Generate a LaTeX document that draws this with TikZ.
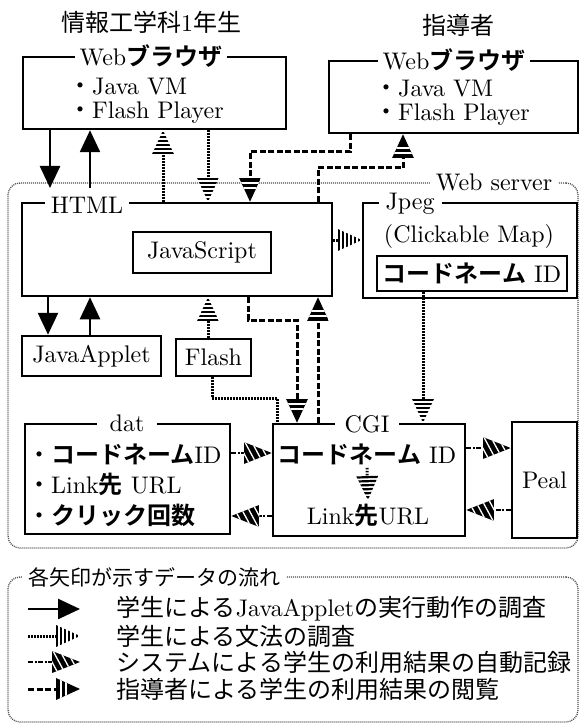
\documentclass[tikz,border=0pt]{standalone}
\usepackage{fontspec}
\setmainfont{lmroman10-regular.otf}[BoldFont=lmroman10-bold.otf]
\newfontfamily\jp{Noto Sans CJK JP}[BoldFont={Noto Sans CJK JP Bold}]
\usetikzlibrary{arrows.meta,decorations.markings}

\newcommand{\jtxt}[1]{{\jp #1}}
\newcommand{\jbold}[1]{{\jp\bfseries #1}}

% striped heads, drawn in the frame of the path end
\newcommand{\gramhead}{%
  \begin{scope}[solid, shorten >=0pt]
    \clip (0,0) -- (-24,-11) -- (-24,11) -- cycle;
    \fill[white] (-24,-11) -- (0,-11) -- (0,11) -- (-24,11) -- cycle;
    \foreach \s in {0,4,...,20}
      \fill (-24+\s,-11) -- (-21.8+\s,-11) -- (-21.8+\s,11) -- (-24+\s,11) -- cycle;
  \end{scope}}
\newcommand{\syshead}{%
  \begin{scope}[solid, shorten >=0pt]
    \clip (0,0) -- (-28,-11) -- (-28,11) -- cycle;
    \fill (-28,-11) -- (0,-11) -- (0,11) -- (-28,11) -- cycle;
    \foreach \s in {-35,-28,...,-7}
      \draw[white, line width=1.3pt] (\s,-13) -- (\s+14,13);
  \end{scope}}
\newcommand{\suphead}{%
  \begin{scope}[solid, shorten >=0pt]
    \clip (0,0) -- (-24,-11) -- (-24,11) -- cycle;
    \fill (-24,-11) -- (0,-11) -- (0,11) -- (-24,11) -- cycle;
    \fill[white] (-20,-11) -- (-18,-11) -- (-18,11) -- (-20,11) -- cycle;
    \fill[white] (-15,-11) -- (-13,-11) -- (-13,11) -- (-15,11) -- cycle;
  \end{scope}}

\tikzset{
  box/.style={draw, line width=2.5pt, inner sep=0pt},
  boxtitle/.style={fill=white, inner ysep=1pt},
  frame/.style={draw=black!70, line width=1.3pt, dash pattern=on 1pt off 1pt,
    rounded corners=12pt, inner sep=0pt},
  % data flows
  applet/.style={line width=2.5pt, -{Triangle[length=22pt,width=20pt]}},
  gramline/.style={line width=3pt, dash pattern=on 1.5pt off 1.5pt},
  gram/.style={gramline, shorten >=22pt,
    postaction={decorate, decoration={markings, mark=at position 1 with {\gramhead}}}},
  sys/.style={line width=2.5pt, dash pattern=on 5pt off 1.5pt on 2pt off 1.5pt, shorten >=26pt,
    postaction={decorate, decoration={markings, mark=at position 1 with {\syshead}}}},
  sup/.style={line width=3pt, dash pattern=on 6pt off 2.5pt, shorten >=22pt,
    postaction={decorate, decoration={markings, mark=at position 1 with {\suphead}}}},
}

\begin{document}
\begin{tikzpicture}[x=1pt, y=-1pt, font=\fontsize{24}{25}\selectfont]
  \useasboundingbox (0,0) rectangle (583,727);

  % Users
  \node (student) at (151,22) {\jtxt{情報工学科}1\jtxt{年生}};
  \node (teacher) at (458,25) {\jtxt{指導者}};

  % Browsers
  \node[box, minimum width=263, minimum height=72] (lbrowser) at (154.5,93) {};
  \node[boxtitle, inner xsep=5pt] (lbrowserlbl) at (151,56) {Web\jbold{ブラウザ}};
  \node[anchor=west, align=left, inner sep=0pt, font=\fontsize{24}{24}\selectfont]
    (ltxt) at (68,101) {\jtxt{・}Java VM\\\jtxt{・}Flash Player};

  \node[box, minimum width=249, minimum height=72] (rbrowser) at (453.5,97) {};
  \node[boxtitle, inner xsep=5pt] (rbrowserlbl) at (454,60) {Web\jbold{ブラウザ}};
  \node[anchor=west, align=left, inner sep=0pt, font=\fontsize{24}{24}\selectfont]
    (rtxt) at (374,103) {\jtxt{・}Java VM\\\jtxt{・}Flash Player};

  % Web server
  \node[frame, minimum width=570, minimum height=365] (server) at (293,365.5) {};
  \node[fill=white, inner xsep=6pt, inner ysep=1pt] (serverlbl) at (494,182) {Web server};

  \node[box, minimum width=310, minimum height=93] (html) at (177,249.5) {};
  \node[boxtitle, inner xsep=6pt] (htmllbl) at (87,205) {HTML};
  \node[box, minimum width=138, minimum height=41] (js) at (202,252.5) {JavaScript};
  \node[box, minimum width=139, minimum height=40] (applet) at (91.5,356) {JavaApplet};
  \node[box, minimum width=75, minimum height=37] (flash) at (213.5,357.5) {Flash};

  \node[box, minimum width=214, minimum height=95] (jpeg) at (470,250.5) {};
  \node[boxtitle, inner xsep=7pt] (jpeglbl) at (410,204) {Jpeg};
  \node[anchor=base] (clickmap) at (469,242) {(Clickable Map)};
  \node[box, minimum width=190, minimum height=35] (jpegcode) at (472,273.5) {\jbold{コードネーム} ID};

  \node[box, minimum width=205, minimum height=110] (dat) at (127.5,479) {};
  \node[boxtitle, inner xsep=13pt] (datlbl) at (127,423) {dat};
  \node[anchor=west, align=left, inner sep=0pt, font=\fontsize{24}{30.5}\selectfont]
    (dattxt) at (27,485) {\jtxt{・}\jbold{コードネーム}ID\\\jtxt{・}Link\jbold{先} URL\\\jtxt{・}\jbold{クリック回数}};

  \node[box, minimum width=192, minimum height=112] (cgi) at (369,480) {};
  \node[boxtitle, inner xsep=10pt] (cgilbl) at (367,424) {CGI};
  \node[anchor=base] (cgicode) at (367,463) {\jbold{コードネーム} ID};
  \node[anchor=base] (cgiurl) at (368,524) {Link\jbold{先}URL};

  \node[box, minimum width=65, minimum height=116] (peal) at (544.5,480) {Peal};

  % Student browser <-> HTML
  \coordinate (apd) at (50,188);
  \coordinate (apu) at (90,188);
  \draw[applet] (lbrowser.south -| apd) -- (apd);
  \draw[applet] (apu) -- (lbrowser.south -| apu);
  \coordinate (gu) at (163,0);
  \coordinate (gd) at (208,0);
  \draw[gram] (html.north -| gu) -- (lbrowser.south -| gu);
  \draw[gram] (lbrowser.south -| gd) -- (html.north -| gd);

  % Teacher browser <-> HTML
  \coordinate (td) at (350,152);
  \coordinate (tl) at (250,152);
  \draw[sup] (rbrowser.south -| td) -- (td) -- (tl) -- (html.north -| tl);
  \coordinate (tu) at (318,168);
  \coordinate (tr) at (403,168);
  \draw[sup] (html.north -| tu) -- (tu) -- (tr) -- (rbrowser.south -| tr);

  % HTML <-> JavaApplet, Flash
  \coordinate (ja) at (48,0);
  \coordinate (jb) at (90,0);
  \draw[applet] (html.south -| ja) -- (applet.north -| ja);
  \draw[applet] (applet.north -| jb) -- (html.south -| jb);
  \coordinate (fl) at (208,0);
  \draw[gram] (flash.north -| fl) -- (html.south -| fl);
  \coordinate (fd) at (212,398);
  \coordinate (fr) at (277,398);
  \draw[gramline] (flash.south -| fd) -- (fd) -- (fr) -- (cgi.north -| fr);

  % HTML <-> CGI
  \coordinate (hd) at (248,320);
  \coordinate (hr) at (297,320);
  \draw[sup] (html.south -| hd) -- (hd) -- (hr) -- (cgi.north -| hr);
  \coordinate (cu) at (318,0);
  \draw[sup] (cgi.north -| cu) -- (html.south -| cu);

  % HTML -> Jpeg -> CGI
  \coordinate (hj) at (0,240);
  \draw[gram] (html.east |- hj) -- (jpeg.west |- hj);
  \coordinate (jc) at (423,0);
  \draw[gram] (jpegcode.south -| jc) -- (cgi.north -| jc);
  \draw[gram] (cgicode.south) -- (cgiurl.north);

  % CGI <-> dat, Peal
  \coordinate (d1) at (0,453);
  \coordinate (d2) at (0,516);
  \draw[sys] (dat.east |- d1) -- (cgi.west |- d1);
  \draw[sys] (cgi.west |- d2) -- (dat.east |- d2);
  \coordinate (p1) at (0,448);
  \coordinate (p2) at (0,510);
  \draw[sys] (cgi.east |- p1) -- (peal.west |- p1);
  \draw[sys] (peal.west |- p2) -- (cgi.east |- p2);

  % Legend
  \node[frame, minimum width=570, minimum height=145] (legend) at (293,649.5) {};
  \node[fill=white, anchor=west, inner xsep=6pt, inner ysep=1pt,
    font=\fontsize{21}{24}\selectfont] (legendlbl) at (22,577) {\jtxt{各矢印が示すデータの流れ}};

  \coordinate (k1a) at (28,609);
  \coordinate (k1b) at (80,609);
  \draw[applet] (k1a) -- (k1b);
  \node[anchor=west] (k1) at (113,609) {\jtxt{学生による}JavaApplet\jtxt{の実行動作の調査}};
  \coordinate (k2a) at (28,636);
  \coordinate (k2b) at (80,636);
  \draw[gram] (k2a) -- (k2b);
  \node[anchor=west] (k2) at (113,636) {\jtxt{学生による文法の調査}};
  \coordinate (k3a) at (28,662);
  \coordinate (k3b) at (80,662);
  \draw[sys] (k3a) -- (k3b);
  \node[anchor=west] (k3) at (113,662) {\jtxt{システムによる学生の利用結果の自動記録}};
  \coordinate (k4a) at (28,689);
  \coordinate (k4b) at (80,689);
  \draw[sup] (k4a) -- (k4b);
  \node[anchor=west] (k4) at (113,689) {\jtxt{指導者による学生の利用結果の閲覧}};
\end{tikzpicture}
\end{document}
